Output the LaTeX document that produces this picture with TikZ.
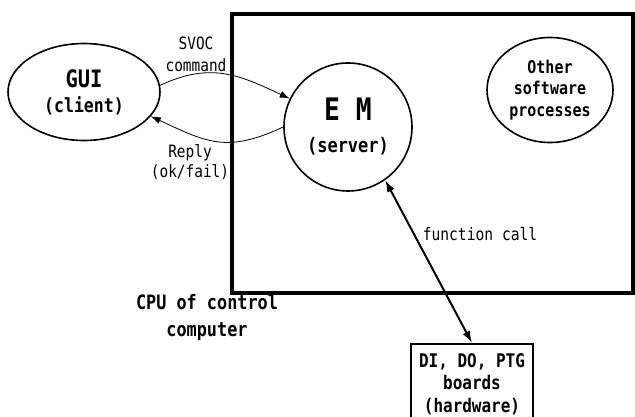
\documentclass[tikz,border=0pt]{standalone}
\usepackage{fontspec}
\setmonofont[FakeStretch=0.85]{DejaVu Sans Mono}
\usepackage{tikz}
\usetikzlibrary{shapes.geometric}
\usetikzlibrary{arrows.meta}

\newcommand{\Carattere}[2]{\fontsize{#1}{#2}\selectfont}

\begin{document}
\begin{tikzpicture}[x=1pt,y=-1pt,
        processo/.style={draw,line width=1.6pt,inner sep=0pt,align=center},
        messaggio/.style={-{Latex[length=10pt,width=7pt]},line width=0.8pt},
        chiamata/.style={{Latex[length=12pt,width=8pt]}-{Latex[length=12pt,width=8pt]},line width=2pt},
        etichetta/.style={align=center,inner sep=0pt}]

    \useasboundingbox (0,0) rectangle (635,417);

        % Riquadro del calcolatore di controllo
    \draw[line width=3.3pt] (232,14) rectangle (633,293);

        % Processi
    \node[processo,ellipse,minimum width=152pt,minimum height=97pt,
          font=\ttfamily\bfseries\Carattere{19.5}{25}] (gui) at (84,92)
         {{\Carattere{24}{25}GUI}\\(client)};
    \node[processo,circle,minimum size=128pt,
          font=\ttfamily\bfseries\Carattere{20}{32}] (em) at (348,127)
         {{\Carattere{31}{32}E M}\\(server)};
    \node[processo,ellipse,minimum width=126pt,minimum height=105pt,
          font=\ttfamily\bfseries\Carattere{17.6}{21.5}] (altri) at (550,90)
         {Other\\software\\processes};

        % Schede di I/O
    \node[processo,anchor=north,minimum width=122pt,minimum height=80pt,
          font=\ttfamily\bfseries\Carattere{18.8}{22.5}] (schede) at (472,343)
         {DI, DO, PTG\\boards\\(hardware)};

        % Comando e risposta
    \draw[messaggio] (gui.5) to[out=25,in=155,looseness=1.1] (em.154);
    \draw[messaggio] (em.180) to[out=205,in=-25,looseness=1.2] (gui.-20);
    \node[etichetta,font=\ttfamily\Carattere{17}{22}] (comando) at (196,54) {SVOC\\command};
    \node[etichetta,font=\ttfamily\Carattere{17}{20}] (risposta) at (190,162) {Reply\\(ok/fail)};

        % Chiamata di funzione
    \draw[chiamata] (em.-55) -- (schede.north);
    \node[etichetta,font=\ttfamily\Carattere{17.2}{18}] (funzione) at (480,234) {function call};

        % Titolo
    \node[etichetta,font=\ttfamily\bfseries\Carattere{19.8}{27}] (cpu) at (207,318) {CPU of control\\computer};

\end{tikzpicture}
\end{document}
